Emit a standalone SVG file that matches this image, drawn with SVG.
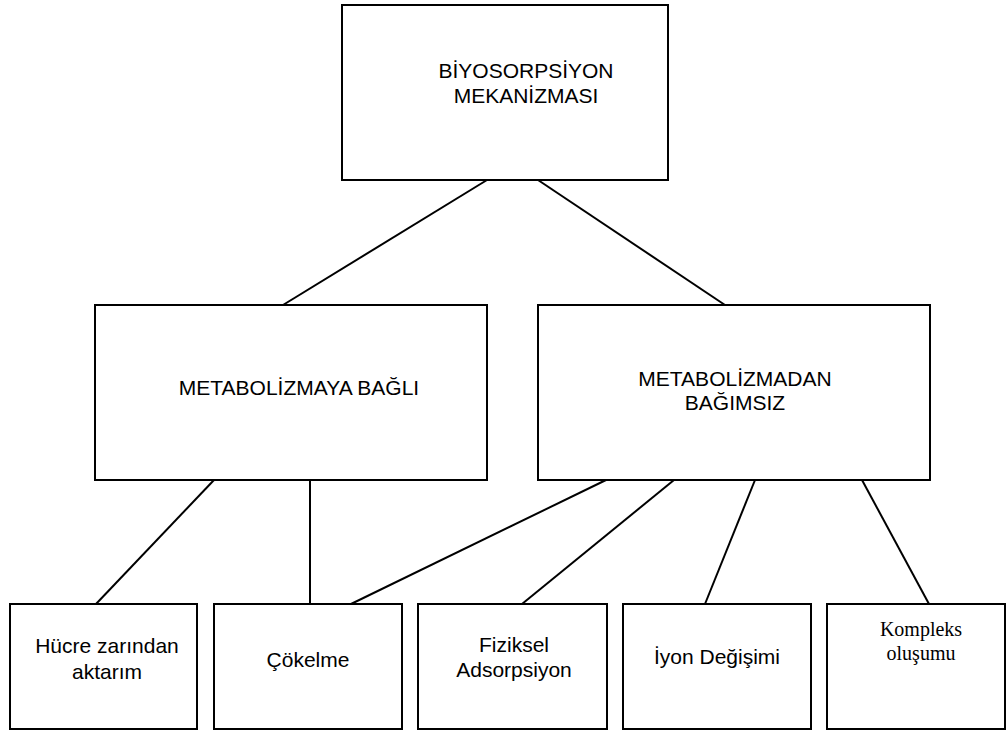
<svg xmlns="http://www.w3.org/2000/svg" width="1008" height="731" viewBox="0 0 1008 731">
<style>
.box{fill:#fff;stroke:#000;stroke-width:2}
.t{font-family:"Liberation Sans",Arial,sans-serif;font-size:21px;fill:#000;text-anchor:middle}
.s{font-family:"Liberation Serif","Times New Roman",serif;font-size:20px;fill:#000;text-anchor:middle}
.c line{stroke:#000;stroke-width:2}
</style>
<rect width="1008" height="731" fill="#fff"/>
<g id="connectors" class="c">
<line x1="487" y1="180" x2="283" y2="305"/>
<line x1="538" y1="180" x2="725" y2="305"/>
<line x1="214" y1="480" x2="96" y2="604"/>
<line x1="310" y1="480" x2="310" y2="604"/>
<line x1="606" y1="480" x2="351" y2="604"/>
<line x1="674" y1="480" x2="522" y2="604"/>
<line x1="755" y1="480" x2="705" y2="604"/>
<line x1="862" y1="480" x2="929" y2="604"/>
</g>
<g id="root">
<rect class="box" x="342" y="5" width="326" height="175"/>
<text class="t" x="526" y="78">BİYOSORPSİYON</text>
<text class="t" x="526" y="103">MEKANİZMASI</text>
</g>
<g id="metabolizmaya-bagli">
<rect class="box" x="95" y="305" width="392" height="175"/>
<text class="t" x="299" y="395">METABOLİZMAYA BAĞLI</text>
</g>
<g id="metabolizmadan-bagimsiz">
<rect class="box" x="538" y="305" width="392" height="175"/>
<text class="t" x="735" y="386">METABOLİZMADAN</text>
<text class="t" x="735" y="410">BAĞIMSIZ</text>
</g>
<g id="hucre">
<rect class="box" x="10" y="604" width="187" height="125"/>
<text class="t" x="107" y="653">Hücre zarından</text>
<text class="t" x="107" y="679">aktarım</text>
</g>
<g id="cokelme">
<rect class="box" x="214" y="604" width="188" height="125"/>
<text class="t" x="308" y="667">Çökelme</text>
</g>
<g id="fiziksel">
<rect class="box" x="418" y="604" width="189" height="125"/>
<text class="t" x="514" y="652">Fiziksel</text>
<text class="t" x="514" y="677">Adsorpsiyon</text>
</g>
<g id="iyon">
<rect class="box" x="623" y="604" width="188" height="125"/>
<text class="t" x="717" y="664">İyon Değişimi</text>
</g>
<g id="kompleks">
<rect class="box" x="827" y="604" width="178" height="125"/>
<text class="s" x="921" y="636">Kompleks</text>
<text class="s" x="921" y="660">oluşumu</text>
</g>
</svg>
